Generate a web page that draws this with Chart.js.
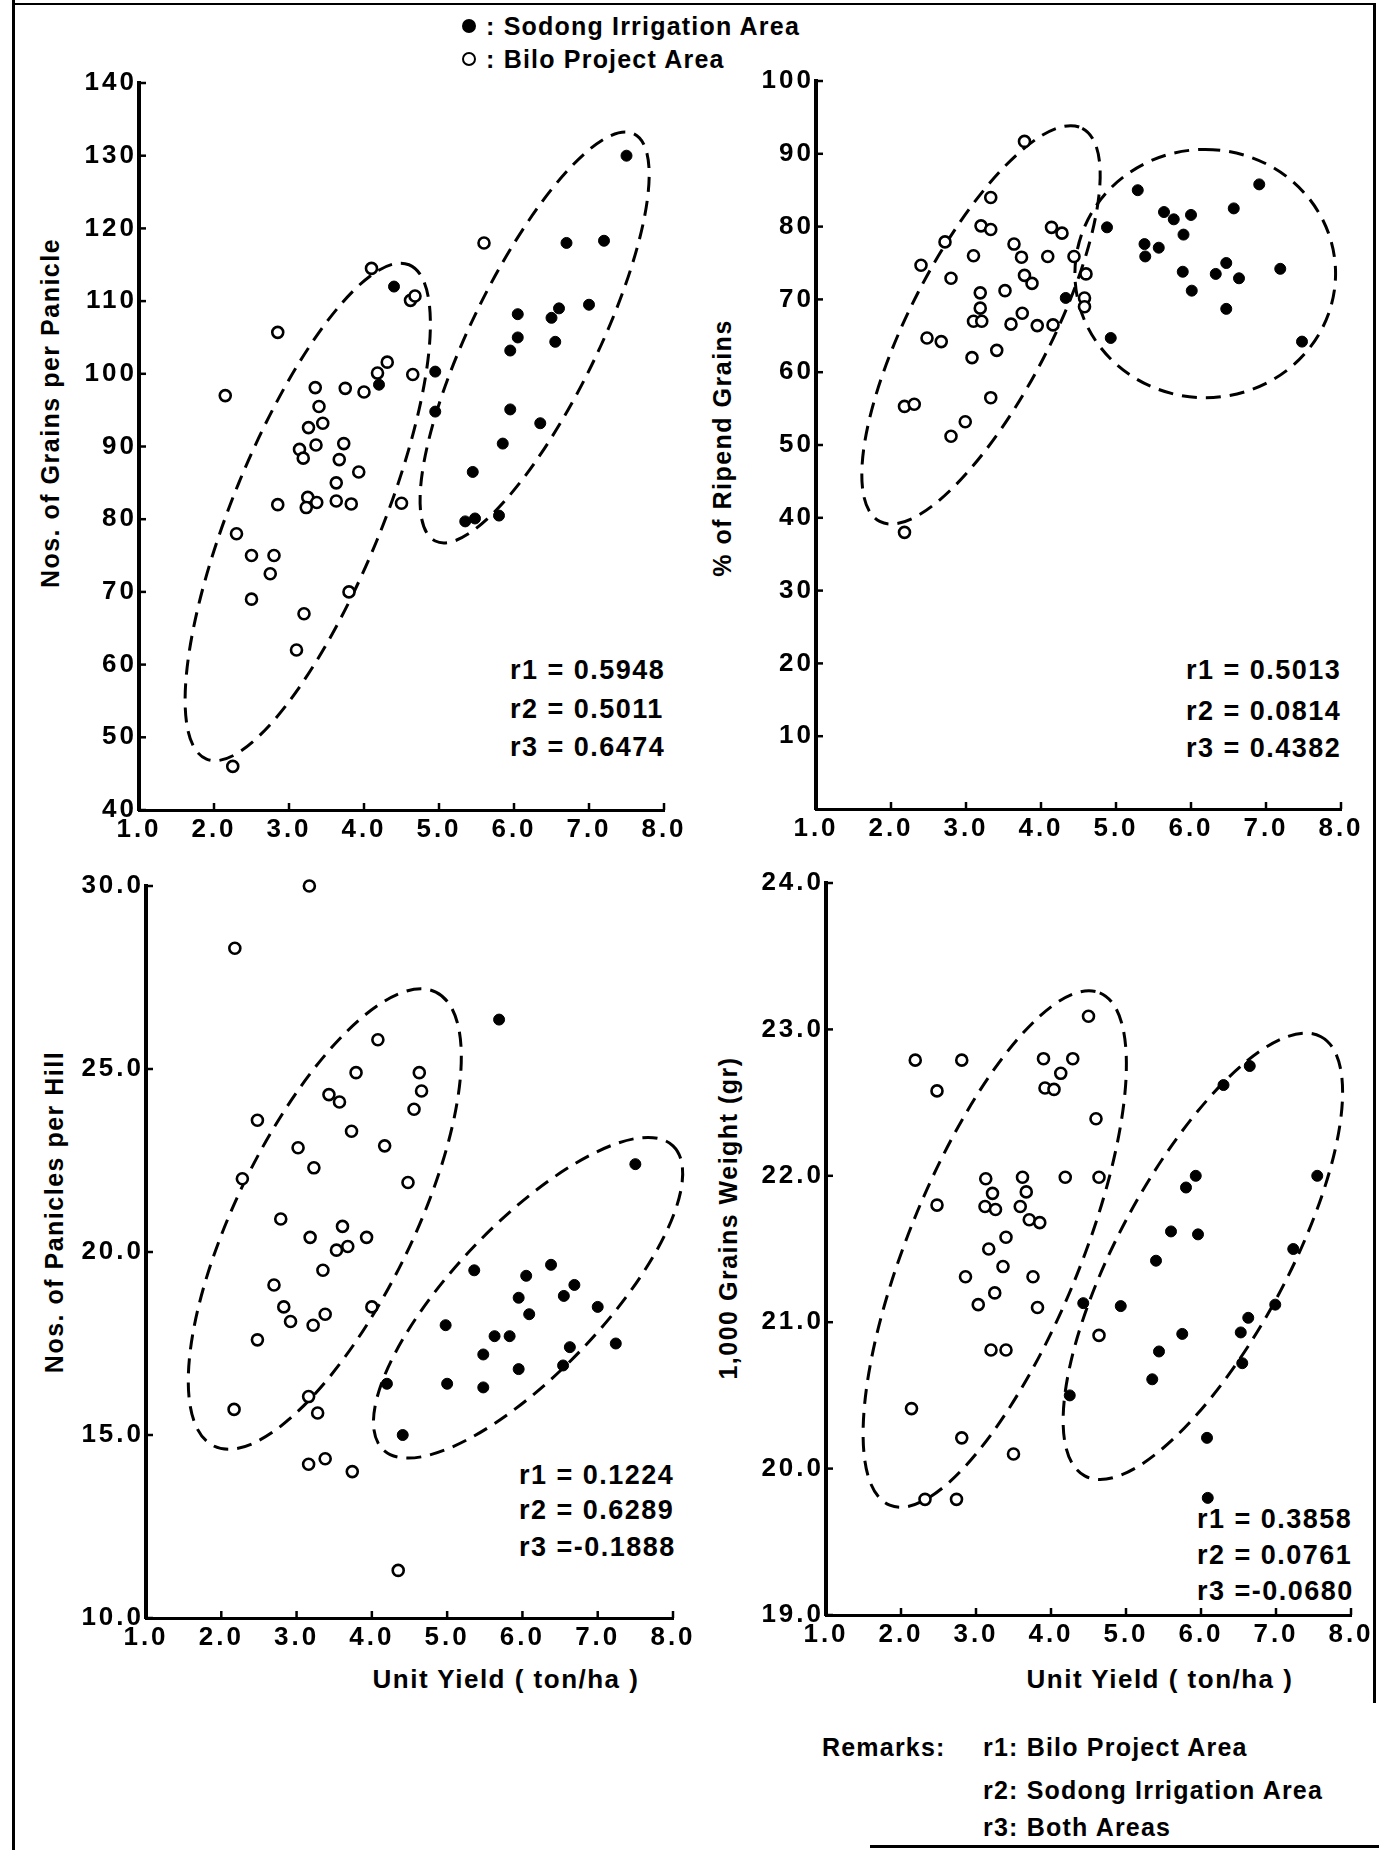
<!DOCTYPE html>
<html>
<head>
<meta charset="utf-8">
<script src="https://cdn.jsdelivr.net/npm/chart.js@4.4.1/dist/chart.umd.min.js"></script>
<style>
html, body { margin: 0; padding: 0; background: #fff; }
body { width: 1379px; height: 1850px; position: relative; overflow: hidden; font-family: "Liberation Sans", Arial, sans-serif; color: #000; }
.box { position: absolute; }
.txt { position: absolute; white-space: nowrap; line-height: 30px; font-weight: bold; }
.ytitle { position: absolute; white-space: nowrap; font-size: 25px; letter-spacing: 1.5px; font-weight: bold; transform: translate(-50%, -50%) rotate(-90deg); }
.xtitle { position: absolute; white-space: nowrap; font-size: 26px; letter-spacing: 1.5px; font-weight: bold; transform: translate(-50%, -50%); }
.stat { font-size: 27px; letter-spacing: 1.5px; }
.note { font-size: 25px; letter-spacing: 1.2px; }
.dot { display: inline-block; width: 10px; height: 10px; border-radius: 50%; border: 2.5px solid #000; margin-right: 10px; vertical-align: 2px; }
.rule { position: absolute; background: #000; }
</style>
</head>
<body>

<div class="rule" style="left:12px;top:0;width:3px;height:1850px"></div>
<div class="rule" style="left:12px;top:3px;width:1362px;height:2px"></div>
<div class="rule" style="left:1373px;top:3px;width:3px;height:1700px"></div>
<div class="rule" style="left:870px;top:1845px;width:509px;height:3px"></div>

<div class="txt note" style="left:462px;top:11px"><span class="dot" style="background:#000"></span>: Sodong Irrigation Area</div>
<div class="txt note" style="left:462px;top:44px"><span class="dot" style="background:#fff"></span>: Bilo Project Area</div>

<div class="ytitle" style="left:50px;top:413px">Nos. of Grains per Panicle</div>
<div class="ytitle" style="left:722px;top:448px">% of Ripend Grains</div>
<div class="ytitle" style="left:54px;top:1212px">Nos. of Panicles per Hill</div>
<div class="ytitle" style="left:728px;top:1218px">1,000 Grains Weight (gr)</div>

<div class="xtitle" style="left:506px;top:1679px">Unit Yield ( ton/ha )</div>
<div class="xtitle" style="left:1160px;top:1679px">Unit Yield ( ton/ha )</div>

<div class="txt stat" style="left:510px;top:655px">r1 = 0.5948</div>
<div class="txt stat" style="left:510px;top:694px">r2 = 0.5011</div>
<div class="txt stat" style="left:510px;top:732px">r3 = 0.6474</div>

<div class="txt stat" style="left:1186px;top:655px">r1 = 0.5013</div>
<div class="txt stat" style="left:1186px;top:696px">r2 = 0.0814</div>
<div class="txt stat" style="left:1186px;top:733px">r3 = 0.4382</div>

<div class="txt stat" style="left:519px;top:1460px">r1 = 0.1224</div>
<div class="txt stat" style="left:519px;top:1495px">r2 = 0.6289</div>
<div class="txt stat" style="left:519px;top:1532px">r3 =-0.1888</div>

<div class="txt stat" style="left:1197px;top:1504px">r1 = 0.3858</div>
<div class="txt stat" style="left:1197px;top:1540px">r2 = 0.0761</div>
<div class="txt stat" style="left:1197px;top:1576px">r3 =-0.0680</div>

<div class="txt note" style="left:822px;top:1732px">Remarks:</div>
<div class="txt note" style="left:983px;top:1732px">r1: Bilo Project Area</div>
<div class="txt note" style="left:983px;top:1775px">r2: Sodong Irrigation Area</div>
<div class="txt note" style="left:983px;top:1812px">r3: Both Areas</div>

<script>
// tick labels
const yieldTicks = [1, 2, 3, 4, 5, 6, 7, 8];
const grainsTicks = [40, 50, 60, 70, 80, 90, 100, 110, 120, 130, 140];
const ripenedTicks = [10, 20, 30, 40, 50, 60, 70, 80, 90, 100];
const paniclesTicks = [10, 15, 20, 25, 30];
const weightTicks = [19, 20, 21, 22, 23, 24];

// Nos. of grains per panicle
const grainsBiloYield = [2.15, 2.25, 2.3, 2.5, 2.75, 2.8, 2.5, 2.85, 2.85, 3.2, 3.1, 3.8, 4.5, 3.25, 3.23, 3.37, 3.63, 3.83, 3.63, 3.93, 3.67, 3.14, 3.19, 3.36, 3.73, 3.26, 3.45, 3.4, 3.35, 3.75, 4.0, 4.18, 4.31, 4.65, 4.62, 4.68, 4.1, 5.6];
const grainsBiloValue = [97, 46, 78, 75, 72.5, 75, 69, 82, 105.7, 67, 62, 70, 82.2, 83, 81.6, 82.3, 82.5, 82.1, 85, 86.5, 88.2, 89.6, 88.4, 90.2, 90.4, 92.6, 93.2, 95.5, 98.1, 98, 97.5, 100.1, 101.6, 99.9, 110.1, 110.7, 114.5, 118];
const grainsSodongYield = [7.5, 6.7, 7.2, 4.4, 6.05, 6.5, 6.6, 7.0, 6.05, 5.95, 6.55, 4.2, 4.95, 4.95, 5.95, 6.35, 5.85, 5.45, 5.35, 5.48, 5.8];
const grainsSodongValue = [130, 118, 118.3, 112, 108.2, 107.7, 109, 109.5, 105, 103.2, 104.4, 98.5, 100.3, 94.8, 95.1, 93.2, 90.4, 86.5, 79.7, 80.1, 80.5];

// % of ripened grains
const ripenedBiloYield = [3.78, 3.33, 3.2, 3.33, 2.72, 2.4, 2.8, 3.1, 3.64, 3.74, 4.14, 4.28, 4.09, 4.44, 3.78, 3.88, 3.52, 3.19, 3.19, 3.1, 3.21, 3.6, 3.75, 3.95, 4.16, 4.6, 4.58, 4.58, 2.48, 2.67, 3.41, 3.08, 3.33, 2.18, 2.31, 2.99, 2.8, 2.18];
const ripenedBiloValue = [91.7, 84, 80.1, 79.6, 77.9, 74.7, 72.9, 76, 77.6, 75.8, 79.9, 79.1, 75.9, 75.9, 73.3, 72.2, 71.2, 70.9, 68.8, 67, 67, 66.6, 68.1, 66.4, 66.5, 73.5, 70.2, 69, 64.7, 64.2, 63, 62, 56.5, 55.3, 55.6, 53.2, 51.2, 38];
const ripenedSodongYield = [5.29, 6.91, 5.64, 5.77, 6.0, 6.57, 5.9, 4.88, 5.38, 5.39, 5.57, 6.47, 5.89, 6.33, 6.64, 7.19, 6.01, 6.47, 4.33, 4.93, 7.48];
const ripenedSodongValue = [85, 85.8, 82, 81, 81.6, 82.5, 78.9, 79.9, 77.6, 75.9, 77.1, 75, 73.8, 73.5, 72.9, 74.2, 71.2, 68.7, 70.2, 64.7, 64.2];

// Nos. of panicles per hill
const paniclesBiloYield = [3.17, 2.18, 4.08, 3.79, 4.63, 4.66, 3.43, 3.57, 4.56, 2.48, 3.73, 4.17, 3.02, 3.23, 2.28, 4.48, 2.79, 3.61, 3.18, 3.93, 3.53, 3.68, 3.35, 2.7, 2.83, 2.92, 3.22, 3.38, 4.0, 2.48, 3.16, 2.17, 3.28, 3.16, 3.38, 3.74, 4.35];
const paniclesBiloValue = [30.0, 28.3, 25.8, 24.9, 24.9, 24.4, 24.3, 24.1, 23.9, 23.6, 23.3, 22.9, 22.85, 22.3, 22.0, 21.9, 20.9, 20.7, 20.4, 20.4, 20.05, 20.15, 19.5, 19.1, 18.5, 18.1, 18.0, 18.3, 18.5, 17.6, 16.05, 15.7, 15.6, 14.2, 14.35, 14.0, 11.3];
const paniclesSodongYield = [5.69, 7.5, 5.36, 6.38, 6.05, 6.69, 5.95, 6.55, 7.0, 6.09, 4.98, 5.63, 5.83, 5.48, 6.63, 7.24, 5.95, 6.54, 4.2, 5.0, 5.48, 4.41];
const paniclesSodongValue = [26.35, 22.4, 19.5, 19.65, 19.35, 19.1, 18.75, 18.8, 18.5, 18.3, 18.0, 17.7, 17.7, 17.2, 17.4, 17.5, 16.8, 16.9, 16.4, 16.4, 16.3, 15.0];

// 1,000 grains weight
const weightBiloYield = [4.5, 2.19, 2.81, 2.48, 3.9, 4.29, 4.13, 3.92, 4.04, 4.6, 3.13, 3.62, 4.19, 4.64, 2.48, 3.22, 3.67, 3.12, 3.26, 3.59, 3.71, 3.85, 3.4, 3.17, 3.36, 2.86, 3.76, 3.25, 3.03, 3.82, 3.2, 3.4, 4.64, 2.14, 2.81, 3.5, 2.32, 2.74];
const weightBiloValue = [23.09, 22.79, 22.79, 22.58, 22.8, 22.8, 22.7, 22.6, 22.59, 22.39, 21.98, 21.99, 21.99, 21.99, 21.8, 21.88, 21.89, 21.79, 21.77, 21.79, 21.7, 21.68, 21.58, 21.5, 21.38, 21.31, 21.31, 21.2, 21.12, 21.1, 20.81, 20.81, 20.91, 20.41, 20.21, 20.1, 19.79, 19.79];
const weightSodongYield = [6.65, 6.3, 5.93, 5.8, 7.55, 5.6, 5.96, 5.4, 7.23, 4.93, 4.43, 6.99, 6.63, 6.53, 5.75, 5.44, 6.55, 5.35, 4.25, 6.08, 6.09];
const weightSodongValue = [22.75, 22.62, 22.0, 21.92, 22.0, 21.62, 21.6, 21.42, 21.5, 21.11, 21.13, 21.12, 21.03, 20.93, 20.92, 20.8, 20.72, 20.61, 20.5, 20.21, 19.8];

// dashed group outlines: long-axis ends in data units, then width ratio
const grainsOutlines = [[1.9, 47, 4.6, 115, 0.28], [4.95, 77, 7.6, 133, 0.28]];
const ripenedOutlines = [[1.85, 39.5, 4.55, 93.5, 0.32], [6.19, 56.5, 6.19, 90.6, 1.05]];
const paniclesOutlines = [[1.9, 14.7, 4.85, 27.1, 0.35], [4.15, 14.6, 8.0, 22.9, 0.355]];
const weightOutlines = [[1.85, 19.75, 4.65, 23.25, 0.31], [4.45, 19.95, 7.6, 22.95, 0.34]];

const Y_W = 64, PAD_T = 18, PAD_R = 30, X_H = 46;
const TICK_FONT = { family: '"Liberation Sans", Arial, sans-serif', size: 26, weight: 'bold' };

const outlinePlugin = {
  id: 'outlines',
  beforeDraw(chart) {
    chart.ctx.letterSpacing = '3px';
  },
  beforeDatasetsDraw(chart, args, opts) {
    const { ctx, scales: { x, y } } = chart;
    ctx.save();
    ctx.letterSpacing = '0px';
    ctx.strokeStyle = '#000';
    ctx.lineWidth = 3;
    ctx.setLineDash([15, 9]);
    (opts.shapes || []).forEach(([x1, y1, x2, y2, r]) => {
      const px1 = x.getPixelForValue(x1), py1 = y.getPixelForValue(y1);
      const px2 = x.getPixelForValue(x2), py2 = y.getPixelForValue(y2);
      const half = Math.hypot(px2 - px1, py2 - py1) / 2;
      ctx.beginPath();
      ctx.ellipse((px1 + px2) / 2, (py1 + py2) / 2, half, half * r, Math.atan2(py2 - py1, px2 - px1), 0, Math.PI * 2);
      ctx.stroke();
    });
    ctx.restore();
  },
  afterDraw(chart) {
    // short inward tick marks
    const { ctx, chartArea: a, scales: { x, y } } = chart;
    ctx.save();
    ctx.strokeStyle = '#000';
    ctx.lineWidth = 2.5;
    x.ticks.forEach(t => {
      const px = x.getPixelForValue(t.value);
      ctx.beginPath(); ctx.moveTo(px, a.bottom); ctx.lineTo(px, a.bottom - 7); ctx.stroke();
    });
    y.ticks.forEach(t => {
      const py = y.getPixelForValue(t.value);
      ctx.beginPath(); ctx.moveTo(a.left, py); ctx.lineTo(a.left + 7, py); ctx.stroke();
    });
    ctx.restore();
  }
};

function pairs(xs, ys) {
  return xs.map((v, i) => ({ x: v, y: ys[i] }));
}

function makePanel(p) {
  const left = p.area[0] - Y_W, top = p.area[1] - PAD_T;
  const div = document.createElement('div');
  div.className = 'box';
  div.style.left = left + 'px';
  div.style.top = top + 'px';
  div.style.width = (p.area[2] + PAD_R - left) + 'px';
  div.style.height = (p.area[3] + X_H - top) + 'px';
  const cv = document.createElement('canvas');
  div.appendChild(cv);
  document.body.appendChild(div);

  new Chart(cv, {
    type: 'scatter',
    data: {
      datasets: [{
        label: 'Bilo Project Area',
        data: pairs(p.bilo[0], p.bilo[1]),
        clip: false,
        pointRadius: 5.5,
        pointBackgroundColor: '#fff',
        pointBorderColor: '#000',
        pointBorderWidth: 2.6
      }, {
        label: 'Sodong Irrigation Area',
        data: pairs(p.sodong[0], p.sodong[1]),
        clip: false,
        pointRadius: 5.5,
        pointBackgroundColor: '#000',
        pointBorderColor: '#000',
        pointBorderWidth: 1
      }]
    },
    options: {
      responsive: true,
      maintainAspectRatio: false,
      animation: false,
      events: [],
      layout: { padding: { top: PAD_T, right: PAD_R, left: 0, bottom: 0 } },
      plugins: {
        legend: { display: false },
        tooltip: { enabled: false },
        outlines: { shapes: p.shapes }
      },
      scales: {
        x: {
          type: 'linear', min: 1, max: 8,
          afterFit: s => { s.height = X_H; },
          afterBuildTicks: s => { s.ticks = yieldTicks.map(v => ({ value: v })); },
          ticks: { callback: v => v.toFixed(1), font: TICK_FONT, color: '#000', padding: 4, maxRotation: 0, autoSkip: false },
          grid: { display: false, drawTicks: false },
          border: { display: true, color: '#000', width: 3 }
        },
        y: {
          type: 'linear', min: p.yMin, max: p.yMax,
          afterFit: s => { s.width = Y_W; },
          afterBuildTicks: s => { s.ticks = p.yTicks.map(v => ({ value: v })); },
          ticks: { callback: p.fmt, font: TICK_FONT, color: '#000', padding: 2, autoSkip: false },
          grid: { display: false, drawTicks: false },
          border: { display: true, color: '#000', width: 4 }
        }
      }
    },
    plugins: [outlinePlugin]
  });
}

makePanel({ area: [139, 83, 664, 810], yMin: 40, yMax: 140, yTicks: grainsTicks, fmt: v => String(v),
  bilo: [grainsBiloYield, grainsBiloValue], sodong: [grainsSodongYield, grainsSodongValue], shapes: grainsOutlines });
makePanel({ area: [816, 81, 1341, 809], yMin: 0, yMax: 100, yTicks: ripenedTicks, fmt: v => String(v),
  bilo: [ripenedBiloYield, ripenedBiloValue], sodong: [ripenedSodongYield, ripenedSodongValue], shapes: ripenedOutlines });
makePanel({ area: [146, 886, 673, 1618], yMin: 10, yMax: 30, yTicks: paniclesTicks, fmt: v => v.toFixed(1),
  bilo: [paniclesBiloYield, paniclesBiloValue], sodong: [paniclesSodongYield, paniclesSodongValue], shapes: paniclesOutlines });
makePanel({ area: [826, 883, 1351, 1615], yMin: 19, yMax: 24, yTicks: weightTicks, fmt: v => v.toFixed(1),
  bilo: [weightBiloYield, weightBiloValue], sodong: [weightSodongYield, weightSodongValue], shapes: weightOutlines });
</script>
</body>
</html>
